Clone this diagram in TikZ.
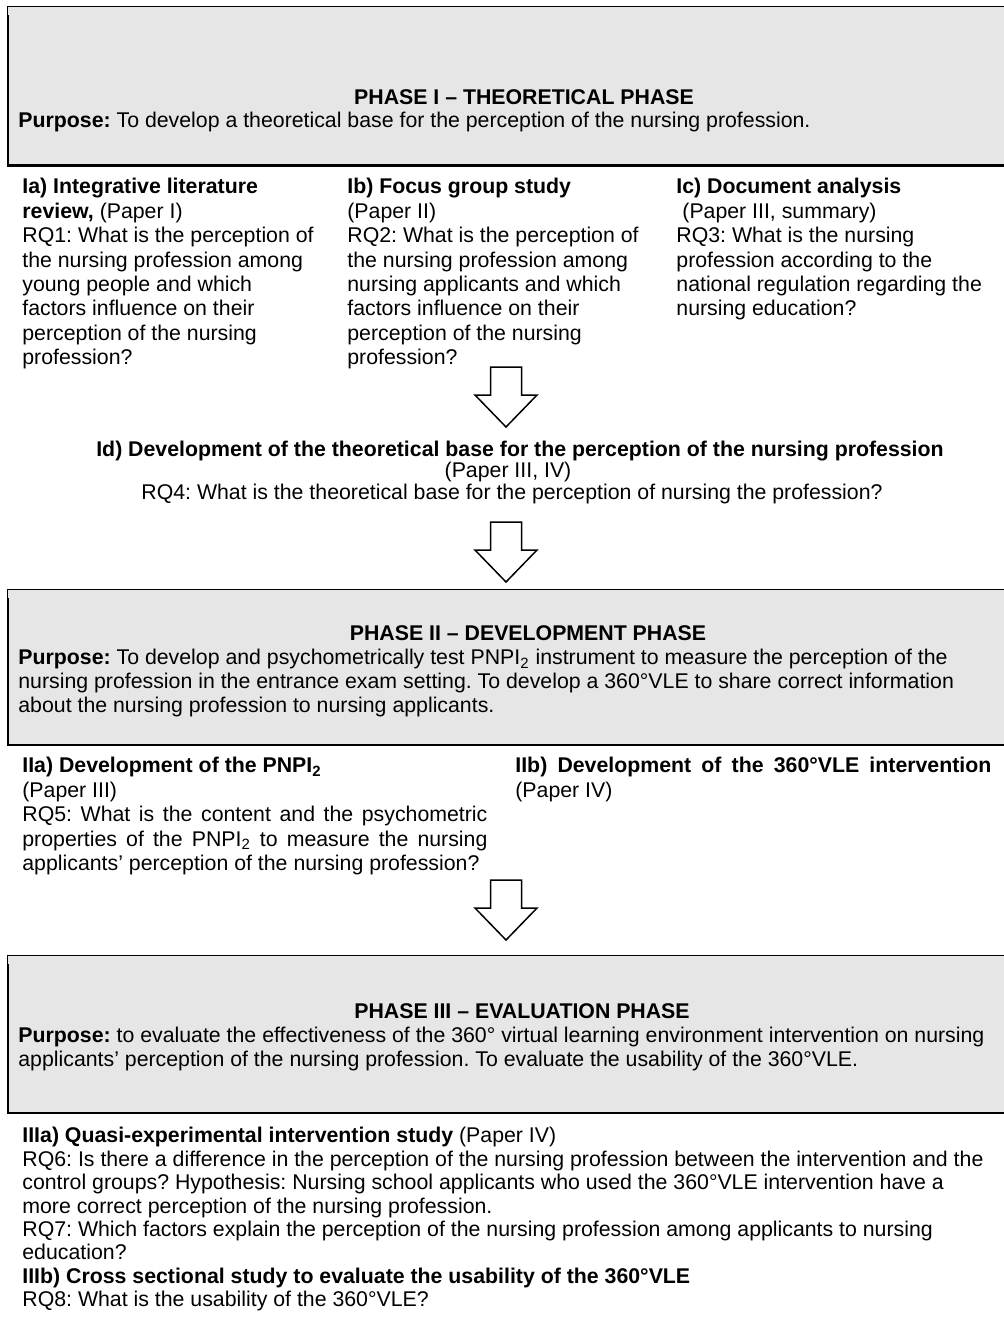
\documentclass[tikz,border=0pt]{standalone}
\usepackage{fontspec}
\setmainfont{Liberation Sans}
\usetikzlibrary{positioning}
\definecolor{boxgray}{HTML}{E6E6E6}
\frenchspacing
\tikzset{
  pics/phasebox/.style args={#1:#2}{
    code = {
      \fill[boxgray] (8,#1) rectangle (1012,#2);
      \draw[line width=.5pt] (7.5,#1+9) |- (1012,#1);
      \draw[line width=1.3pt] (8,#1+9) |- (1012,#2);
    }
  },
  pics/blockarrow/.style={
    code = {
      \draw[line width=.75pt,fill=white,line join=miter] (-15.5,0) -- (15.5,0) -- (15.5,28) -- (31,28) -- (0,60) -- (-31,28) -- (-15.5,28) -- cycle;
    }
  },
  txt/.style={inner sep=0pt,anchor=north west,align=left,font=\fontsize{10.65}{12.2}\selectfont\frenchspacing},
  one/.style={inner sep=0pt,anchor=base,font=\fontsize{10.65}{12.2}\selectfont\frenchspacing},
}

\begin{document}
\begin{tikzpicture}[x=.5pt,y=-.5pt]
\useasboundingbox (0,0) rectangle (1004,1344);
\clip (0,0) rectangle (1004,1344);
% the three phases
\pic at (0,0) {phasebox={6:165.5}};
\pic at (0,0) {phasebox={589:745}};
\pic at (0,0) {phasebox={955:1113}};
\foreach \t in {367,522,880} {
  \pic at (506,\t) {blockarrow};
}
% phase I
\node[one] (title1) at (524,104.5) {\textbf{PHASE I -- THEORETICAL PHASE}};
\node[one,anchor=base west] (purpose1) at (18,127) {\textbf{Purpose:} To develop a theoretical base for the perception of the nursing profession.};
\node[txt] (ia) at (22,176.4) {\strut\textbf{Ia) Integrative literature}\\\textbf{review,} (Paper I)\\RQ1: What is the perception of\\the nursing profession among\\young people and which\\factors influence on their\\perception of the nursing\\profession?};
\node[txt] (ib) at (347,176.4) {\strut\textbf{Ib) Focus group study}\\(Paper II)\\RQ2: What is the perception of\\the nursing profession among\\nursing applicants and which\\factors influence on their\\perception of the nursing\\profession?};
\node[txt] (ic) at (676,176.4) {\strut\textbf{Ic) Document analysis}\\\hspace*{3pt}(Paper III, summary)\\RQ3: What is the nursing\\profession according to the\\national regulation regarding the\\nursing education?};
\node[one] (id) at (520,456) {\textbf{Id) Development of the theoretical base for the perception of the nursing profession}};
\node[one] (idpaper) at (508,477) {(Paper III, IV)};
\node[one] (rq4) at (512,499) {RQ4: What is the theoretical base for the perception of nursing the profession?};
% phase II
\node[one] (title2) at (528,640) {\textbf{PHASE II -- DEVELOPMENT PHASE}};
\node[txt,font=\fontsize{10.65}{12}\selectfont\frenchspacing] (purpose2) at (18,647.7) {\strut\textbf{Purpose:} To develop and psychometrically test PNPI\textsubscript{2} instrument to measure the perception of the\\nursing profession in the entrance exam setting. To develop a 360°VLE to share correct information\\about the nursing profession to nursing applicants.};
\node[txt,text width=232.5pt,align=justify] (iia) at (22,755.4) {\strut\textbf{IIa) Development of the PNPI\textsubscript{2}}\\(Paper III)\\RQ5: What is the content and the psychometric\linebreak properties of the PNPI\textsubscript{2} to measure the nursing\linebreak applicants’ perception of the nursing profession?};
\node[txt,text width=238pt,align=justify] (iib) at (515,755.4) {\strut\textbf{IIb) Development of the 360°VLE intervention}\linebreak (Paper IV)};
% phase III
\node[one] (title3) at (522,1018) {\textbf{PHASE III -- EVALUATION PHASE}};
\node[txt,font=\fontsize{10.65}{12}\selectfont\frenchspacing] (purpose3) at (18,1025.7) {\strut\textbf{Purpose:} to evaluate the effectiveness of the 360° virtual learning environment intervention on nursing\\applicants’ perception of the nursing profession. To evaluate the usability of the 360°VLE.};
\node[txt,font=\fontsize{10.65}{11.7}\selectfont\frenchspacing] (iiia) at (22,1126.1) {\strut\textbf{IIIa) Quasi-experimental intervention study} (Paper IV)\\RQ6: Is there a difference in the perception of the nursing profession between the intervention and the\\control groups? Hypothesis: Nursing school applicants who used the 360°VLE intervention have a\\more correct perception of the nursing profession.\\RQ7: Which factors explain the perception of the nursing profession among applicants to nursing\\education?\\\textbf{IIIb) Cross sectional study to evaluate the usability of the 360°VLE}\\RQ8: What is the usability of the 360°VLE?};
\end{tikzpicture}
\end{document}
